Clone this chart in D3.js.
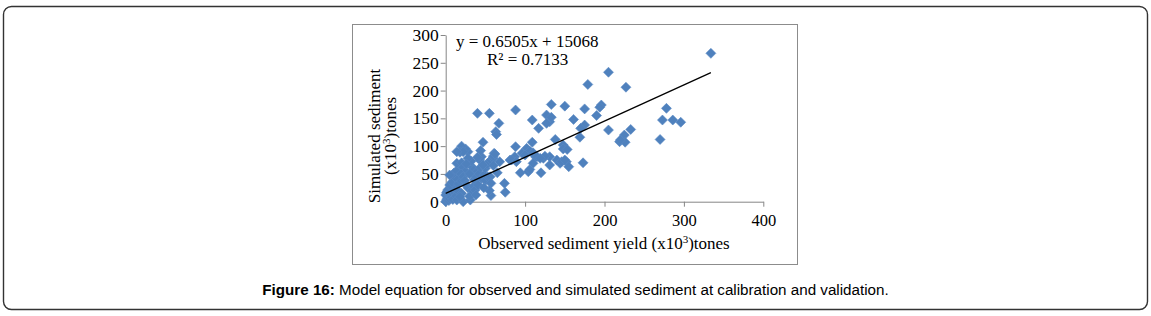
<!DOCTYPE html>
<html>
<head>
<meta charset="utf-8">
<script src="https://cdn.jsdelivr.net/npm/d3@7"></script>
<style>
  body { margin: 0; background: #fff; }
  svg { display: block; }
</style>
</head>
<body>
<svg id="chart" width="1151" height="316"></svg>
<script>
// observed vs simulated sediment, x10^3 tones
const points = [
  [334,267],[205,233],[179,211],[227,206],[133,175],[150,172],[88,165],[40,159],[55,159],[196,174],
  [194,170],[175,167],[278,168],[127,156],[190,155],[109,147],[161,148],[131,144],[133,152],[273,147],
  [286,147],[296,143],[67,141],[175,138],[170,132],[117,132],[233,130],[205,129],[63,126],[64,121],
  [169,116],[225,120],[270,112],[219,108],[226,107],[47,107],[109,107],[138,112],[148,102],[88,99],
  [102,96],[106,91],[96,87],[148,95],[153,94],[113,81],[131,81],[123,78],[173,70],[140,75],
  [144,69],[152,72],[155,63],[87,81],[61,87],[81,75],[94,52],[104,54],[120,52],[106,58],
  [110,88],[115,81],[125,82],[146,72],[150,75],[83,75],[89,72],[100,84],[119,78],[110,69],
  [131,66],[220,111],[127,141],
  [0,0],[1,3],[2,6],[3,9],[0,12],[1,16],[2,19],[4,2],[5,5],[6,12],
  [7,8],[3,22],[8,15],[9,4],[10,18],[11,24],[12,28],[5,30],[8,35],[13,10],
  [14,3],[15,20],[16,32],[18,40],[12,44],[10,51],[5,48],[14,56],[18,66],[14,69],
  [20,70],[22,62],[25,55],[19,50],[22,45],[24,38],[26,30],[28,25],[20,15],[22,0],
  [31,3],[18,9],[30,10],[33,21],[35,28],[37,21],[36,40],[38,45],[33,63],[35,57],
  [40,55],[42,50],[44,62],[45,42],[48,48],[50,60],[52,68],[55,72],[57,75],[60,78],
  [60,82],[62,86],[43,75],[45,81],[40,80],[47,66],[28,90],[25,95],[20,100],[18,89],
  [22,90],[14,90],[44,92],[32,73],[28,78],[30,50],[26,68],[50,38],[53,45],[56,45],
  [65,52],[60,65],[68,72],[57,33],[74,33],[75,17],[57,11],[55,20],[41,30],[48,25],
  [38,12]
]

const xTicks = [0, 100, 200, 300, 400]
const yTicks = [0, 50, 100, 150, 200, 250, 300]

// trendline from the figure's equation (intercept in x10^3 units)
const slope = 0.6505
const intercept = 15.068
const eqLine = "y = 0.6505x + 15068"
const r2Line = "R² = 0.7133"

const captionBold = "Figure 16:"
const captionText = " Model equation for observed and simulated sediment at calibration and validation."

let svg = d3.select("#chart")

// outer frame of the figure
svg.append("rect")
  .attr("x", 3.5).attr("y", 6.5)
  .attr("width", 1144).attr("height", 303)
  .attr("rx", 8)
  .attr("fill", "none")
  .attr("stroke", "#333")
  .attr("stroke-width", 1.4)

// chart area box
svg.append("rect")
  .attr("x", 352.5).attr("y", 24.5)
  .attr("width", 445).attr("height", 240)
  .attr("fill", "none")
  .attr("stroke", "#8c8c8c")

let x = d3.scaleLinear().domain([0, 400]).range([445.7, 763.3])
let y = d3.scaleLinear().domain([0, 300]).range([201.7, 35])

let serif = "'Liberation Serif', 'Times New Roman', serif"

let gx = svg.append("g")
  .attr("transform", "translate(0," + y(0) + ")")
  .call(d3.axisBottom(x).tickValues(xTicks).tickSize(5).tickSizeOuter(0).tickPadding(8))
gx.select(".domain").attr("stroke", "#868686")
gx.selectAll(".tick line").attr("stroke", "#868686")
gx.selectAll(".tick text").attr("font-family", serif).attr("font-size", "16.5px").attr("fill", "#000")

let gy = svg.append("g")
  .attr("transform", "translate(" + x(0) + ",0)")
  .call(d3.axisLeft(y).tickValues(yTicks).tickSize(5).tickSizeOuter(0).tickPadding(2))
gy.select(".domain").attr("stroke", "#868686")
gy.selectAll(".tick line").attr("stroke", "#868686")
gy.selectAll(".tick text").attr("font-family", serif).attr("font-size", "17.5px").attr("fill", "#000")

// points
svg.append("g")
  .selectAll("path")
  .data(points)
  .enter()
  .append("path")
    .attr("transform", (d) => { return "translate(" + x(d[0]) + "," + y(d[1]) + ")" })
    .attr("d", "M0,-5L5,0L0,5L-5,0Z")
    .attr("fill", "#4f81bd")
    .attr("stroke", "#5b8ac4")
    .attr("stroke-width", 0.6)

// linear trendline
let xMax = d3.max(points, (d) => { return d[0] })
svg.append("line")
  .attr("x1", x(0)).attr("y1", y(intercept))
  .attr("x2", x(xMax)).attr("y2", y(slope * xMax + intercept))
  .attr("stroke", "#000")
  .attr("stroke-width", 1.3)

svg.append("text")
  .attr("x", 456).attr("y", 47)
  .attr("font-family", serif).attr("font-size", "17px")
  .text(eqLine)
svg.append("text")
  .attr("x", 487).attr("y", 65)
  .attr("font-family", serif).attr("font-size", "17px")
  .text(r2Line)

// axis titles
let xt = svg.append("text")
  .attr("x", 604).attr("y", 249)
  .attr("text-anchor", "middle")
  .attr("font-family", serif).attr("font-size", "17px")
xt.append("tspan").text("Observed sediment yield (x10")
xt.append("tspan").attr("dy", -6).attr("font-size", "11px").text("3")
xt.append("tspan").attr("dy", 6).text(")tones")

let yt = svg.append("g")
  .attr("transform", "translate(380,136) rotate(-90)")
yt.append("text")
  .attr("text-anchor", "middle")
  .attr("font-family", serif).attr("font-size", "17px")
  .text("Simulated sediment")
let yt2 = yt.append("text")
  .attr("y", 16)
  .attr("text-anchor", "middle")
  .attr("font-family", serif).attr("font-size", "17px")
yt2.append("tspan").text("(x10")
yt2.append("tspan").attr("dy", -6).attr("font-size", "11px").text("3")
yt2.append("tspan").attr("dy", 6).text(")tones")

// caption
let cap = svg.append("text")
  .attr("x", 575.5).attr("y", 295)
  .attr("text-anchor", "middle")
  .attr("font-family", "'Liberation Sans', Arial, sans-serif")
  .attr("font-size", "15.2px")
cap.append("tspan").attr("font-weight", "bold").text(captionBold)
cap.append("tspan").text(captionText)
</script>
</body>
</html>
